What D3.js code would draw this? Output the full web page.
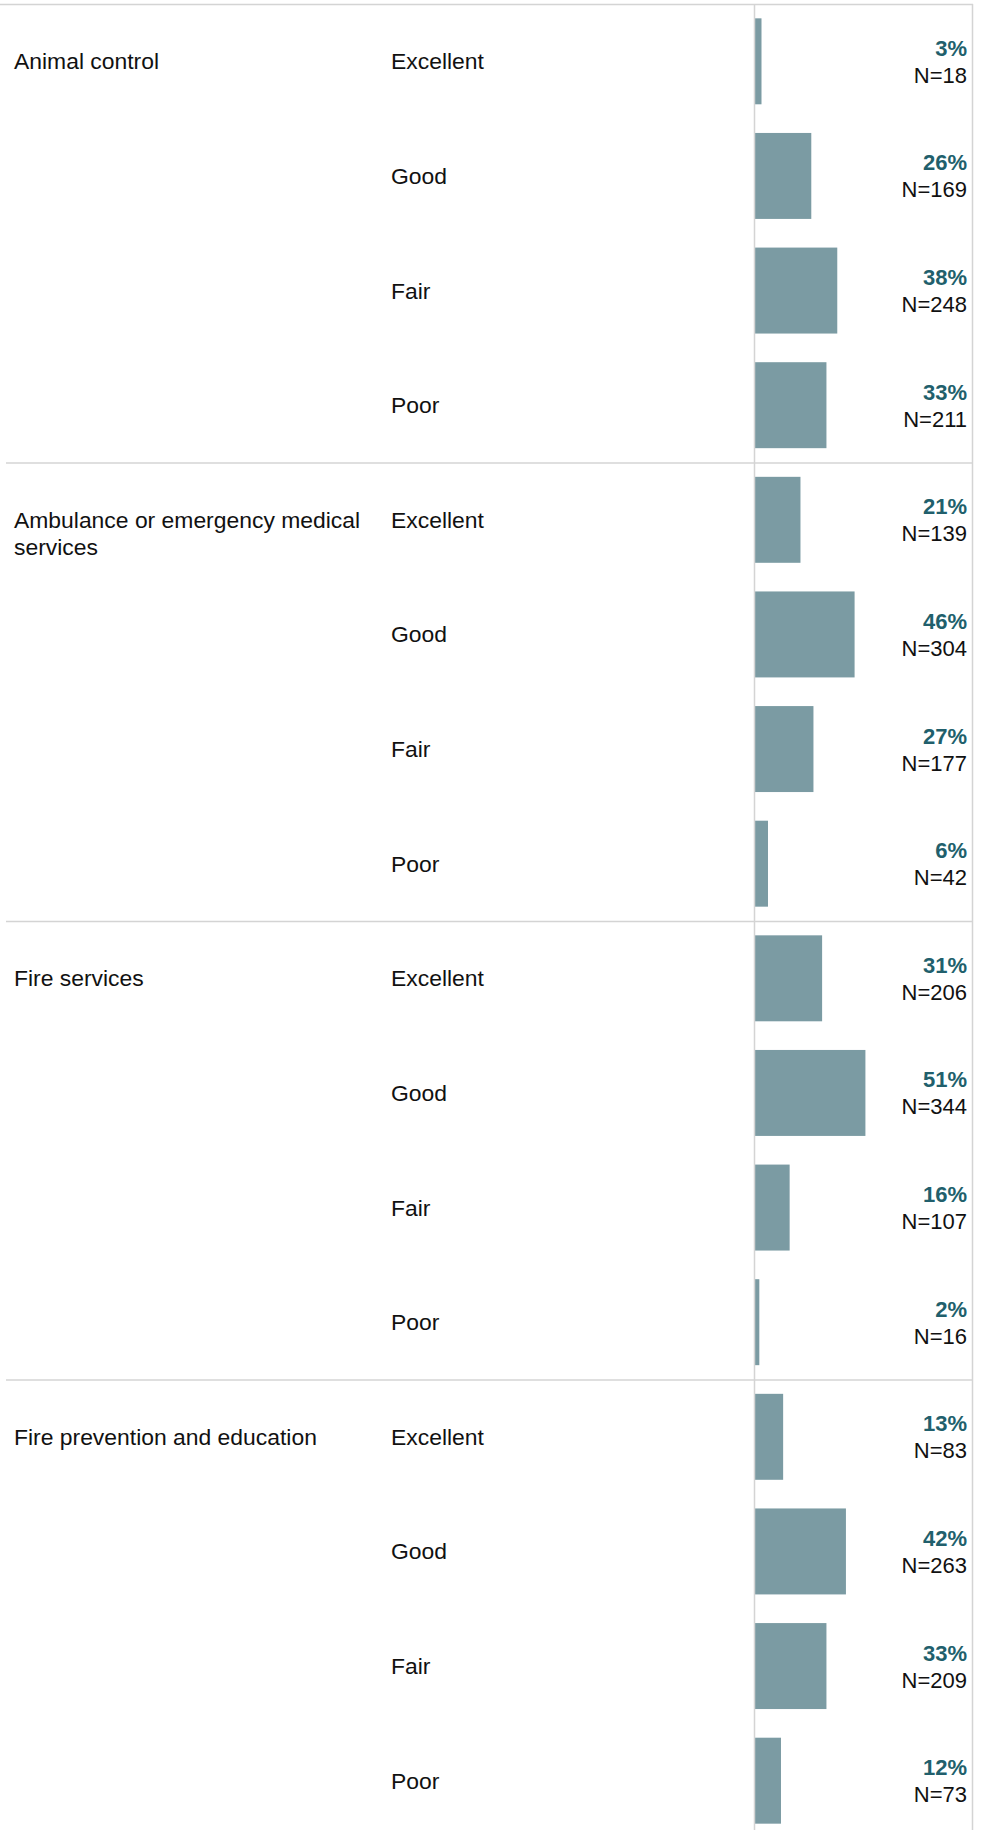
<!DOCTYPE html>
<html>
<head>
<meta charset="utf-8">
<script src="https://cdn.jsdelivr.net/npm/d3@7"></script>
<style>
    body { margin: 0; background: #fff; }
    text { font-family: Arial, "Liberation Sans", sans-serif; font-size: 22px; }
    text.lbl { font-size: 22.9px; }
</style>
</head>
<body>
<div id="chart"></div>
<script>
// Survey data: one group per service, four ratings each
const services = [
    'Animal control',
    'Ambulance or emergency medical services',
    'Fire services',
    'Fire prevention and education'
];
const ratings = ['Excellent', 'Good', 'Fair', 'Poor'];
const percents = [
    [3, 26, 38, 33],
    [21, 46, 27, 6],
    [31, 51, 16, 2],
    [13, 42, 33, 12]
];
const counts = [
    [18, 169, 248, 211],
    [139, 304, 177, 42],
    [206, 344, 107, 16],
    [83, 263, 209, 73]
];

const W = 987, H = 1830;
const topY = 4, rowStep = 114.625;
const axisX = 754.5, rightX = 972.5;

// flatten into rows
let rows = [];
services.forEach((s, gi) => {
    ratings.forEach((r, ri) => {
        rows.push({ service: s, rating: r, pct: percents[gi][ri], n: counts[gi][ri], gi: gi, ri: ri });
    });
});

const svg = d3.select('#chart').append('svg').attr('width', W).attr('height', H);

const y = d3.scaleBand()
            .domain(rows.map((d, i) => i))
            .range([topY, topY + rows.length * rowStep])
            .paddingInner(0.25)
            .paddingOuter(0.125);

// 0-100% spans the bar column
const x = d3.scaleLinear().domain([0, 100]).range([axisX + 0.5, rightX - 1]);

const lineColor = '#d4d4d4';

// Group separators (top line runs to the left edge)
services.forEach((s, gi) => {
    const yy = topY + gi * 4 * rowStep + 0.5;
    svg.append('line')
        .attr('x1', gi === 0 ? 0 : 6).attr('x2', rightX + 0.5)
        .attr('y1', yy).attr('y2', yy)
        .attr('stroke', lineColor).attr('stroke-width', 1.5);
});

// Bars
svg.append('g').selectAll('rect').data(rows).enter()
    .append('rect')
    .attr('x', x(0))
    .attr('y', (d, i) => y(i))
    .attr('width', d => x(d.pct) - x(0))
    .attr('height', y.bandwidth())
    .attr('fill', '#7b9ba3');

// axis line and right border
[axisX, rightX].forEach(xx => {
    svg.append('line')
        .attr('x1', xx).attr('x2', xx)
        .attr('y1', topY).attr('y2', H)
        .attr('stroke', lineColor).attr('stroke-width', 1.5);
});

const mid = (i) => y(i) + y.bandwidth() / 2;

// Service labels, wrapped, first line aligned with first rating row
services.forEach((s, gi) => {
    const t = svg.append('text').attr('class', 'lbl')
                .attr('x', 14).attr('y', mid(gi * 4) + 8).attr('fill', '#111');
    const words = s.split(' ');
    let line = [];
    let tspan = t.append('tspan').attr('x', 14).attr('dy', 0);
    words.forEach(w => {
        line.push(w);
        tspan.text(line.join(' '));
        if (tspan.node().getComputedTextLength() > 362 && line.length > 1) {
            line.pop();
            tspan.text(line.join(' '));
            line = [w];
            tspan = t.append('tspan').attr('x', 14).attr('dy', 27).text(w);
        }
    });
});

const labels = svg.append('g').selectAll('g').data(rows).enter().append('g');

labels.append('text')
    .attr('class', 'lbl')
    .attr('x', 391)
    .attr('y', (d, i) => mid(i) + 8)
    .attr('fill', '#111')
    .text(d => d.rating);

labels.append('text')
    .attr('x', 967)
    .attr('y', (d, i) => mid(i) - 5.5)
    .attr('text-anchor', 'end')
    .attr('font-weight', 'bold')
    .attr('fill', '#215f6c')
    .text(d => d.pct + '%');

labels.append('text')
    .attr('x', 967)
    .attr('y', (d, i) => mid(i) + 21.5)
    .attr('text-anchor', 'end')
    .attr('fill', '#111')
    .text(d => 'N=' + d.n);
</script>
</body>
</html>
